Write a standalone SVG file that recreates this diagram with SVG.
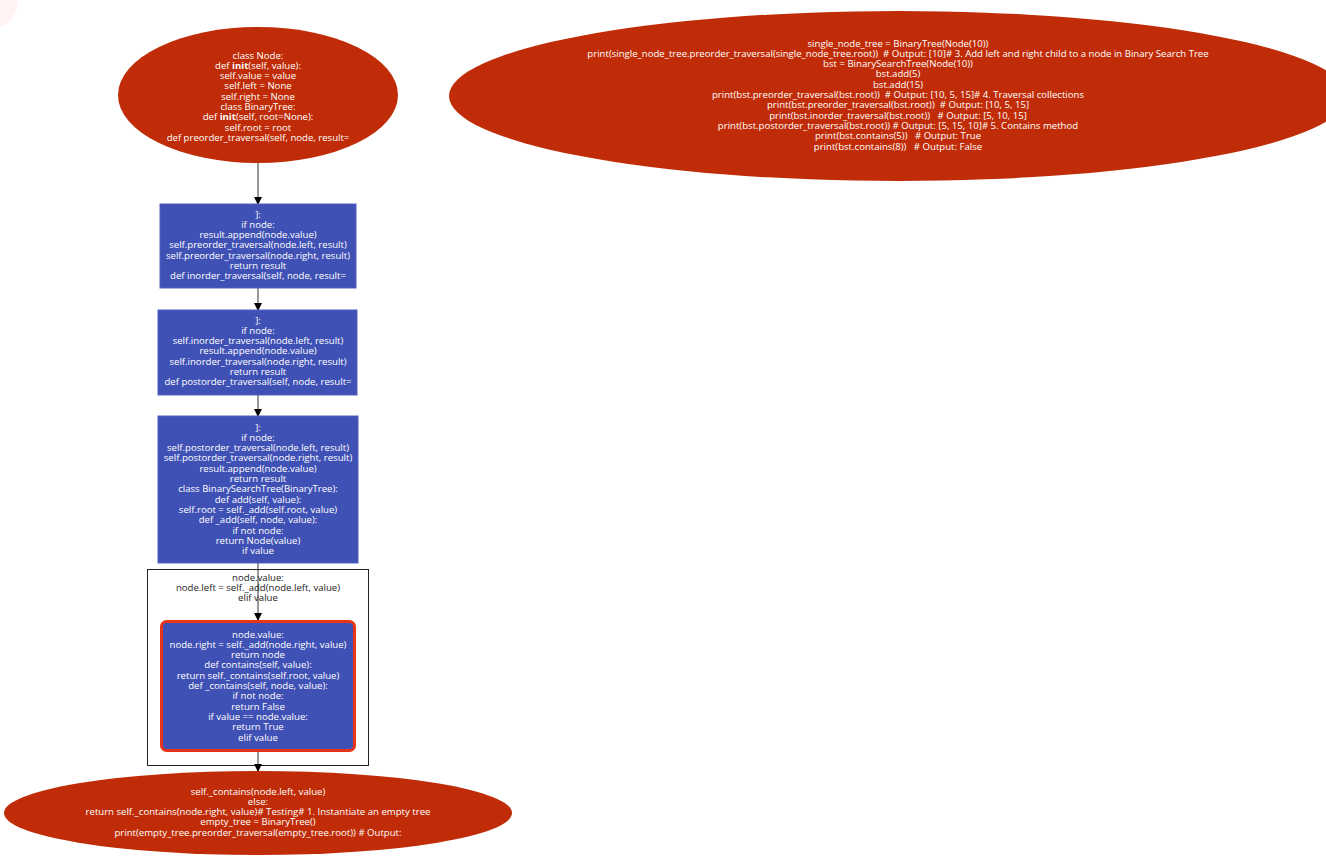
<svg xmlns="http://www.w3.org/2000/svg" width="1326" height="867" viewBox="0 0 1326 867">
<defs>
<style>
.t{font-family:"Open Sans","Noto Sans","Liberation Sans",sans-serif;font-size:9.6px;fill:#ffffff;text-anchor:middle}
.d{fill:#222222}
.el{fill:#c02c07}
.bx{fill:#3f51b5;stroke:#5060c0;stroke-width:1}
.e{stroke:#333333;stroke-width:1;fill:none;marker-end:url(#ah)}
</style>
<marker id="ah" markerWidth="8" markerHeight="8" refX="7" refY="4" orient="auto" markerUnits="userSpaceOnUse">
<path d="M0,0 L8,4 L0,8 z" fill="#000000"/>
</marker>
</defs>
<rect width="1326" height="867" fill="#ffffff"/>
<circle cx="-12" cy="0" r="30" fill="#fff4f2"/>

<g id="cluster">
<rect x="147.5" y="569.5" width="221" height="196" fill="#ffffff" stroke="#222222" stroke-width="1"/>
<text class="t d"><tspan x="258" y="580.5">node.value:</tspan><tspan x="258" y="590.8">node.left = self._add(node.left, value)</tspan><tspan x="258" y="601.1">elif value</tspan></text>
</g>

<g id="connectors">
<line class="e" x1="258" y1="162" x2="258" y2="204"/>
<line class="e" x1="258" y1="288" x2="258" y2="310"/>
<line class="e" x1="258" y1="395" x2="258" y2="416"/>
<line class="e" x1="258" y1="563" x2="258" y2="620"/>
<line class="e" x1="258" y1="752" x2="258" y2="771"/>
</g>

<g id="n1">
<ellipse class="el" cx="258" cy="95" rx="140" ry="68"/>
<text class="t"><tspan x="258" y="58.5">class Node:</tspan><tspan x="258" y="68.8">def <tspan font-weight="bold">init</tspan>(self, value):</tspan><tspan x="258" y="79.1">self.value = value</tspan><tspan x="258" y="89.4">self.left = None</tspan><tspan x="258" y="99.7">self.right = None</tspan><tspan x="258" y="110">class BinaryTree:</tspan><tspan x="258" y="120.3">def <tspan font-weight="bold">init</tspan>(self, root=None):</tspan><tspan x="258" y="130.6">self.root = root</tspan><tspan x="258" y="140.9">def preorder_traversal(self, node, result=</tspan></text>
</g>

<g id="n2">
<rect class="bx" x="160" y="204" width="196" height="84"/>
<text class="t"><tspan x="258" y="217.5">]:</tspan><tspan x="258" y="227.8">if node:</tspan><tspan x="258" y="238.1">result.append(node.value)</tspan><tspan x="258" y="248.4">self.preorder_traversal(node.left, result)</tspan><tspan x="258" y="258.7">self.preorder_traversal(node.right, result)</tspan><tspan x="258" y="269">return result</tspan><tspan x="258" y="279.3">def inorder_traversal(self, node, result=</tspan></text>
</g>

<g id="n3">
<rect class="bx" x="158" y="310" width="199" height="85"/>
<text class="t"><tspan x="258" y="323.5">]:</tspan><tspan x="258" y="333.8">if node:</tspan><tspan x="258" y="344.1">self.inorder_traversal(node.left, result)</tspan><tspan x="258" y="354.4">result.append(node.value)</tspan><tspan x="258" y="364.7">self.inorder_traversal(node.right, result)</tspan><tspan x="258" y="375">return result</tspan><tspan x="258" y="385.3">def postorder_traversal(self, node, result=</tspan></text>
</g>

<g id="n4">
<rect class="bx" x="158" y="416" width="200" height="147"/>
<text class="t"><tspan x="258" y="430.5">]:</tspan><tspan x="258" y="440.8">if node:</tspan><tspan x="258" y="451.1">self.postorder_traversal(node.left, result)</tspan><tspan x="258" y="461.4">self.postorder_traversal(node.right, result)</tspan><tspan x="258" y="471.7">result.append(node.value)</tspan><tspan x="258" y="482">return result</tspan><tspan x="258" y="492.3">class BinarySearchTree(BinaryTree):</tspan><tspan x="258" y="502.6">def add(self, value):</tspan><tspan x="258" y="512.9">self.root = self._add(self.root, value)</tspan><tspan x="258" y="523.2">def _add(self, node, value):</tspan><tspan x="258" y="533.5">if not node:</tspan><tspan x="258" y="543.8">return Node(value)</tspan><tspan x="258" y="554.1">if value</tspan></text>
</g>

<g id="n5">
<rect x="161.5" y="621.5" width="193" height="129" rx="5" fill="#3f51b5" stroke="#e8351a" stroke-width="3"/>
<text class="t"><tspan x="258" y="637.5">node.value:</tspan><tspan x="258" y="647.8">node.right = self._add(node.right, value)</tspan><tspan x="258" y="658.1">return node</tspan><tspan x="258" y="668.4">def contains(self, value):</tspan><tspan x="258" y="678.7">return self._contains(self.root, value)</tspan><tspan x="258" y="689">def _contains(self, node, value):</tspan><tspan x="258" y="699.3">if not node:</tspan><tspan x="258" y="709.6">return False</tspan><tspan x="258" y="719.9">if value == node.value:</tspan><tspan x="258" y="730.2">return True</tspan><tspan x="258" y="740.5">elif value</tspan></text>
</g>

<g id="n6">
<ellipse class="el" cx="258" cy="813" rx="254" ry="42"/>
<text class="t"><tspan x="258" y="794.5">self._contains(node.left, value)</tspan><tspan x="258" y="804.8">else:</tspan><tspan x="258" y="815.1">return self._contains(node.right, value)# Testing# 1. Instantiate an empty tree</tspan><tspan x="258" y="825.4">empty_tree = BinaryTree()</tspan><tspan x="258" y="835.7">print(empty_tree.preorder_traversal(empty_tree.root))  # Output:</tspan></text>
</g>

<g id="n7">
<ellipse class="el" cx="898" cy="96" rx="449" ry="85"/>
<text class="t" xml:space="preserve"><tspan x="898" y="46.5">single_node_tree = BinaryTree(Node(10))</tspan><tspan x="898" y="56.8">print(single_node_tree.preorder_traversal(single_node_tree.root))  # Output: [10]# 3. Add left and right child to a node in Binary Search Tree</tspan><tspan x="898" y="67.1">bst = BinarySearchTree(Node(10))</tspan><tspan x="898" y="77.4">bst.add(5)</tspan><tspan x="898" y="87.7">bst.add(15)</tspan><tspan x="898" y="98">print(bst.preorder_traversal(bst.root))  # Output: [10, 5, 15]# 4. Traversal collections</tspan><tspan x="898" y="108.3">print(bst.preorder_traversal(bst.root))  # Output: [10, 5, 15]</tspan><tspan x="898" y="118.6">print(bst.inorder_traversal(bst.root))   # Output: [5, 10, 15]</tspan><tspan x="898" y="128.9">print(bst.postorder_traversal(bst.root)) # Output: [5, 15, 10]# 5. Contains method</tspan><tspan x="898" y="139.2">print(bst.contains(5))   # Output: True</tspan><tspan x="898" y="149.5">print(bst.contains(8))   # Output: False</tspan></text>
</g>
</svg>
